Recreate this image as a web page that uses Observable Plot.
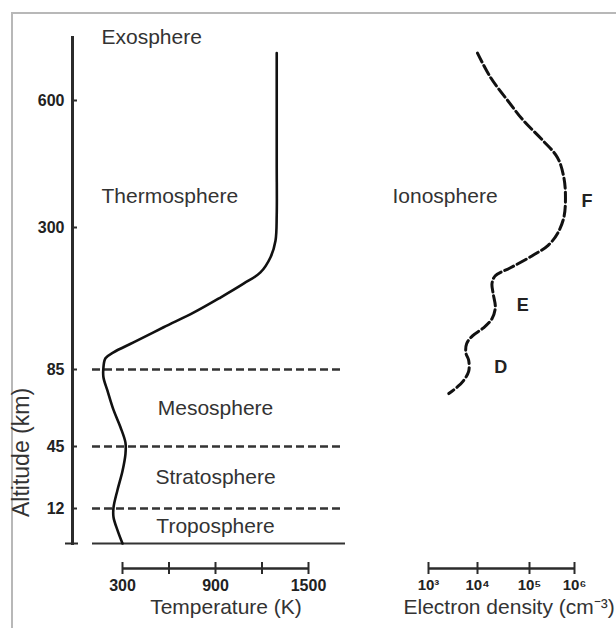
<!DOCTYPE html>
<html>
<head>
<meta charset="utf-8">
<script src="https://cdn.jsdelivr.net/npm/d3@7"></script>
<script src="https://cdn.jsdelivr.net/npm/@observablehq/plot@0.6"></script>
<style>
  html, body { margin: 0; padding: 0; background: #fff; }
  #wrap { position: relative; width: 616px; height: 628px; overflow: hidden; background: #fff; }
  #border { position: absolute; left: 11px; top: 12px; width: 800px; height: 800px; border: 2px solid #b8b8b8; box-sizing: border-box; }
  #wrap svg { position: absolute; left: 0; top: 0; }
</style>
</head>
<body>
<div id="wrap"><div id="border"></div></div>
<script>
// ---- data ----
const altitudeTicks = [12, 45, 85, 300, 600];
const temperatureTicks = [300, 600, 900, 1200, 1500];
const temperatureTickLabels = ["300", "", "900", "", "1500"];
const densityTicks = [1e3, 1e4, 1e5, 1e6];
const densityTickLabels = ["10³", "10⁴", "10⁵", "10⁶"];

const boundaryAltitudes = [12, 45, 85];
const layerNames = ["Troposphere", "Stratosphere", "Mesosphere"];
const layerBottoms = [0, 12, 45];
const layerTops = [12, 45, 85];
const upperLayerNames = ["Thermosphere", "Exosphere"];
const upperLayerAltitudes = [373, 750];

// temperature profile (altitude km, temperature K)
const tempAltitude = [713, 600, 450, 330, 280, 255, 232, 215, 194, 171, 149, 126, 111, 102, 88, 81, 74, 64, 55, 47, 41, 32, 22, 12.5, 9, 4.5, 0];
const temperature  = [1295, 1295, 1295, 1295, 1287, 1255, 1190, 1081, 932, 758, 565, 371, 242, 190, 177, 177, 203, 242, 287, 319, 319, 300, 268, 242, 242, 268, 300];

// electron density profile (altitude km, density cm^-3)
const ionAltitude = [713, 654, 600, 553, 505, 465, 418, 371, 324, 291, 273, 258, 239, 227, 215, 200, 179, 162, 148, 136, 124, 110, 99, 84, 79, 76, 72.5];
const electronDensity = [1.0e4, 1.8e4, 3.8e4, 7.6e4, 2.0e5, 4.2e5, 5.8e5, 6.3e5, 5.8e5, 4.2e5, 2.6e5, 1.2e5, 4.3e4, 2.2e4, 1.9e4, 2.0e4, 2.2e4, 1.9e4, 1.3e4, 7.9e3, 6.0e3, 5.8e3, 6.6e3, 6.6e3, 5.1e3, 3.9e3, 2.6e3];

const ionLayerNames = ["D", "E", "F"];
const ionLayerAltitudes = [88, 182, 361];
const ionLayerDensities = [2.8e4, 7.4e4, 1.9e6];

// ---- tables ----
const tempData = tempAltitude.map((a, i) => ({alt: a, T: temperature[i]}));
const ionData = ionAltitude.map((a, i) => ({alt: a, n: electronDensity[i]}));
const layers = layerNames.map((name, i) => ({name, mid: (layerBottoms[i] + layerTops[i]) / 2}));
const upperLayers = upperLayerNames.map((name, i) => ({name, alt: upperLayerAltitudes[i]}));
const ionLayers = ionLayerNames.map((name, i) => ({name, alt: ionLayerAltitudes[i], n: ionLayerDensities[i]}));
const densityLabels = densityTicks.map((d, i) => ({d, label: densityTickLabels[i]}));

const FONT = "'Liberation Sans', Arial, Helvetica, sans-serif";
const INK = "#222";
const LINE = "#2b2b2b";

const yScale = {
  type: "linear",
  domain: [0, 12, 45, 85, 300, 600, 750],
  range: [543, 508, 446, 369, 227, 100, 37],
  axis: null,
  label: null
};
const baseStyle = {fontFamily: FONT, fontSize: "21px", color: INK, background: "transparent", overflow: "visible"};

// ---- left panel: temperature ----
const left = Plot.plot({
  width: 616, height: 628,
  marginLeft: 72, marginRight: 271, marginTop: 37, marginBottom: 85,
  style: baseStyle,
  x: {domain: [300, 1500], range: [122, 308], axis: null, label: null},
  y: yScale,
  marks: [
    Plot.frame({anchor: "left", stroke: LINE, strokeWidth: 3}),
    // y axis labels and ticks
    Plot.axisY({ticks: altitudeTicks, label: null, tickSize: 0, tickPadding: 8, tickFormat: d => String(d), fontWeight: "bold", fontSize: 16, fill: INK}),
    Plot.axisY({ticks: altitudeTicks, label: null, tickSize: 5, dx: 5, text: null, stroke: LINE, strokeWidth: 2}),
    Plot.axisY({ticks: [0], label: null, tickSize: 13, dx: 6, text: null, stroke: LINE, strokeWidth: 2}),
    Plot.text(["Altitude (km)"], {frameAnchor: "bottom-left", rotate: -90, textAnchor: "middle", dx: -44, dy: -91, fontSize: 23, fill: "#333"}),
    // layer boundaries
    Plot.ruleY(boundaryAltitudes, {insetLeft: 20, insetRight: 3, stroke: "#333", strokeWidth: 2.5, strokeDasharray: "8,4"}),
    Plot.ruleY([0], {insetLeft: 20, stroke: "#333", strokeWidth: 2}),
    // x axis (temperature)
    Plot.ruleY([0], {x1: d3.min(temperatureTicks), x2: d3.max(temperatureTicks), dy: 25, stroke: LINE, strokeWidth: 2.5}),
    Plot.axisX({ticks: temperatureTicks, label: null, tickSize: 12, dy: 19, text: null, stroke: LINE, strokeWidth: 2}),
    Plot.axisX({ticks: temperatureTicks, label: null, tickSize: 0, tickPadding: 11, dy: 25, tickFormat: (d, i) => temperatureTickLabels[i], fontWeight: "bold", fontSize: 16, fill: INK}),
    Plot.text(["Temperature (K)"], {frameAnchor: "bottom", textAnchor: "middle", dx: 17, dy: 70, fontSize: 21, fill: "#333"}),
    // layer names
    Plot.text(layers, {x: () => 900, y: "mid", text: "name", fill: "#333"}),
    Plot.text(upperLayers, {y: "alt", text: "name", frameAnchor: "left", dx: 29, textAnchor: "start", fill: "#333"}),
    // temperature curve
    Plot.line(tempData, {x: "T", y: "alt", curve: "catmull-rom", stroke: "#111", strokeWidth: 2.6})
  ]
});

// ---- right panel: electron density ----
const right = Plot.plot({
  width: 616, height: 628,
  marginLeft: 392, marginRight: 0, marginTop: 37, marginBottom: 85,
  style: baseStyle,
  x: {type: "log", domain: [1e3, 1e4, 1e5, 1e6], range: [428, 477, 529, 574], axis: null, label: null},
  y: yScale,
  marks: [
    Plot.ruleY([0], {x1: d3.min(densityTicks), x2: d3.max(densityTicks), dy: 25, stroke: LINE, strokeWidth: 2.5}),
    Plot.axisX({ticks: densityTicks, label: null, tickSize: 12, dy: 19, text: null, stroke: LINE, strokeWidth: 2}),
    Plot.text(densityLabels, {x: "d", text: "label", frameAnchor: "bottom", textAnchor: "middle", lineAnchor: "top", dy: 36, fontWeight: "bold", fontSize: 15, fill: INK}),
    Plot.text(["Electron density (cm⁻³)"], {frameAnchor: "bottom-left", dx: 11, dy: 70, textAnchor: "start", fontSize: 21, fill: "#333"}),
    Plot.text([{name: "Ionosphere", alt: 373}], {y: "alt", text: "name", frameAnchor: "left", textAnchor: "start", fill: "#333"}),
    Plot.text(ionLayers, {x: "n", y: "alt", text: "name", fontWeight: "bold", fontSize: 18, fill: INK}),
    Plot.line(ionData, {x: "n", y: "alt", curve: "catmull-rom", stroke: "#111", strokeWidth: 3, strokeDasharray: "10,4"})
  ]
});

const wrap = document.getElementById("wrap");
wrap.appendChild(left);
wrap.appendChild(right);
</script>
</body>
</html>
